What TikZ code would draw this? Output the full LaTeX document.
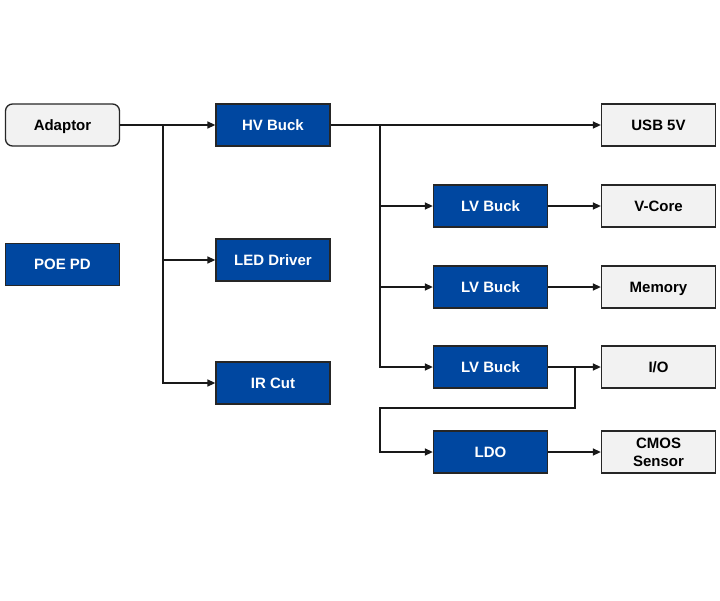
\documentclass[tikz,border=0pt]{standalone}
\usepackage{fontspec}
\setmainfont{Liberation Sans}
\usetikzlibrary{arrows.meta}
\definecolor{bluebox}{HTML}{0047A0}
\definecolor{graybox}{HTML}{F2F2F2}
\begin{document}
\begin{tikzpicture}[x=1pt,y=-1pt,
  base/.style={draw=black!85,line width=1.3pt,minimum width=114pt,minimum height=42pt,inner sep=0pt,font=\fontsize{15}{16}\selectfont\bfseries,align=center,text height=10.7pt,text depth=0pt},
  bluebx/.style={base,fill=bluebox,text=white},
  graybx/.style={base,fill=graybox,text=black},
  conn/.style={line width=1.4pt,draw=black!90},
  arr/.style={conn,-{Triangle[length=8pt,width=7pt]}}]
\useasboundingbox (0,0) rectangle (720,600);
\node[graybx,rounded corners=7pt] (adaptor) at (62.5,125) {Adaptor};
\node[bluebx] (hv) at (273,125) {HV Buck};
\node[graybx] (usb) at (658.5,125) {USB 5V};
\node[bluebx] (poe) at (62.5,264.5) {POE PD};
\node[bluebx] (led) at (273,260) {LED Driver};
\node[bluebx] (ir) at (273,383) {IR Cut};
\node[bluebx] (lv1) at (490.5,206) {LV Buck};
\node[graybx] (vcore) at (658.5,206) {V-Core};
\node[bluebx] (lv2) at (490.5,287) {LV Buck};
\node[graybx] (mem) at (658.5,287) {Memory};
\node[bluebx] (lv3) at (490.5,367) {LV Buck};
\node[graybx] (io) at (658.5,367) {I/O};
\node[bluebx] (ldo) at (490.5,452) {LDO};
\node[graybx,text height=,text depth=] (cmos) at (658.5,452) {CMOS\\[2pt]Sensor};
\coordinate (j1) at (163,125);
\coordinate (j2) at (380,125);
\coordinate (j3) at (575,367);
\draw[arr] (adaptor) -- (hv);
\draw[arr] (j1) |- (led.west);
\draw[arr] (j1) |- (ir.west);
\draw[arr] (hv) -- (usb);
\draw[arr] (j2) |- (lv1.west);
\draw[arr] (j2) |- (lv2.west);
\draw[arr] (j2) |- (lv3.west);
\draw[arr] (lv1) -- (vcore);
\draw[arr] (lv2) -- (mem);
\draw[arr] (lv3) -- (io);
\draw[arr] (j3) -- (575,408) -- (380,408) |- (ldo.west);
\draw[arr] (ldo) -- (cmos);
\end{tikzpicture}
\end{document}
